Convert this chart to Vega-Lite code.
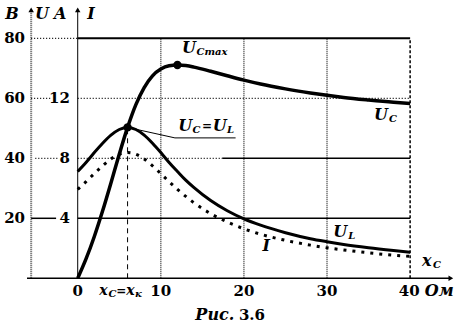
{
  "$schema": "https://vega.github.io/schema/vega-lite/v6.json",
  "width": 455,
  "height": 328,
  "autosize": "none",
  "padding": 0,
  "background": "white",
  "config": {"view": {"stroke": null}, "font": "DejaVu Serif"},
  "resolve": {"scale": {"y": "independent"}},
  "layer": [
    {
      "data": {"values": [{"x": 10, "y": 0, "y2": 80}, {"x": 20, "y": 0, "y2": 80}, {"x": 30, "y": 0, "y2": 80}]},
      "mark": {"type": "rule", "stroke": "#444", "strokeWidth": 1.5, "strokeDash": [1, 1]},
      "encoding": {
        "x": {"field": "x", "type": "quantitative", "scale": {"domain": [-9.35, 45.4], "nice": false, "zero": false}, "axis": null},
        "y": {"field": "y", "type": "quantitative", "scale": {"domain": [-16.57, 92.77], "nice": false, "zero": false}, "axis": null},
        "y2": {"field": "y2"}
      }
    },
    {
      "data": {"values": [{"x": -5.6, "y": 0, "y2": 89}]},
      "mark": {"type": "rule", "stroke": "#555", "strokeWidth": 2, "strokeDash": [1, 1]},
      "encoding": {
        "x": {"field": "x", "type": "quantitative", "scale": {"domain": [-9.35, 45.4], "nice": false, "zero": false}, "axis": null},
        "y": {"field": "y", "type": "quantitative", "scale": {"domain": [-16.57, 92.77], "nice": false, "zero": false}, "axis": null},
        "y2": {"field": "y2"}
      }
    },
    {
      "data": {"values": [{"x": 40, "y": 0, "y2": 80}]},
      "mark": {"type": "rule", "stroke": "black", "strokeWidth": 1.5, "strokeDash": [3, 2]},
      "encoding": {
        "x": {"field": "x", "type": "quantitative", "scale": {"domain": [-9.35, 45.4], "nice": false, "zero": false}, "axis": null},
        "y": {"field": "y", "type": "quantitative", "scale": {"domain": [-16.57, 92.77], "nice": false, "zero": false}, "axis": null},
        "y2": {"field": "y2"}
      }
    },
    {
      "data": {"values": [{"x": 6, "y": 0, "y2": 50.3}]},
      "mark": {"type": "rule", "stroke": "black", "strokeWidth": 1, "strokeDash": [5, 4]},
      "encoding": {
        "x": {"field": "x", "type": "quantitative", "scale": {"domain": [-9.35, 45.4], "nice": false, "zero": false}, "axis": null},
        "y": {"field": "y", "type": "quantitative", "scale": {"domain": [-16.57, 92.77], "nice": false, "zero": false}, "axis": null},
        "y2": {"field": "y2"}
      }
    },
    {
      "data": {"values": [{"x": 0, "y": 0, "y2": 89}]},
      "mark": {"type": "rule", "stroke": "black", "strokeWidth": 1},
      "encoding": {
        "x": {"field": "x", "type": "quantitative", "scale": {"domain": [-9.35, 45.4], "nice": false, "zero": false}, "axis": null},
        "y": {"field": "y", "type": "quantitative", "scale": {"domain": [-16.57, 92.77], "nice": false, "zero": false}, "axis": null},
        "y2": {"field": "y2"}
      }
    },
    {
      "data": {"values": [{"x": -5.6, "x2": -2.6, "y": 20}, {"x": 0, "x2": 40, "y": 20}, {"x": 17.4, "x2": 40, "y": 40}, {"x": -6.1, "x2": 44.8, "y": 0}]},
      "mark": {"type": "rule", "stroke": "black", "strokeWidth": 1.5},
      "encoding": {
        "x": {"field": "x", "type": "quantitative", "scale": {"domain": [-9.35, 45.4], "nice": false, "zero": false}, "axis": null},
        "x2": {"field": "x2"},
        "y": {"field": "y", "type": "quantitative", "scale": {"domain": [-16.57, 92.77], "nice": false, "zero": false}, "axis": null}
      }
    },
    {
      "data": {"values": [{"x": 0, "x2": 40, "y": 80}]},
      "mark": {"type": "rule", "stroke": "black", "strokeWidth": 2},
      "encoding": {
        "x": {"field": "x", "type": "quantitative", "scale": {"domain": [-9.35, 45.4], "nice": false, "zero": false}, "axis": null},
        "x2": {"field": "x2"},
        "y": {"field": "y", "type": "quantitative", "scale": {"domain": [-16.57, 92.77], "nice": false, "zero": false}, "axis": null}
      }
    },
    {
      "data": {"values": [{"x": -5.6, "x2": -3.2, "y": 60}, {"x": 0, "x2": 40, "y": 60}, {"x": -5.1, "x2": -2.4, "y": 40}, {"x": 0, "x2": 17.4, "y": 40}, {"x": -5.6, "x2": 0, "y": 80}]},
      "mark": {"type": "rule", "stroke": "black", "strokeWidth": 1.3, "strokeDash": [1, 2]},
      "encoding": {
        "x": {"field": "x", "type": "quantitative", "scale": {"domain": [-9.35, 45.4], "nice": false, "zero": false}, "axis": null},
        "x2": {"field": "x2"},
        "y": {"field": "y", "type": "quantitative", "scale": {"domain": [-16.57, 92.77], "nice": false, "zero": false}, "axis": null}
      }
    },
    {
      "data": {"values": [{"x": -5.6, "y": 89.5}, {"x": 0, "y": 89.5}]},
      "mark": {"type": "point", "shape": "triangle-up", "filled": true, "color": "black", "size": 30, "opacity": 1},
      "encoding": {
        "x": {"field": "x", "type": "quantitative", "scale": {"domain": [-9.35, 45.4], "nice": false, "zero": false}, "axis": null},
        "y": {"field": "y", "type": "quantitative", "scale": {"domain": [-16.57, 92.77], "nice": false, "zero": false}, "axis": null}
      }
    },
    {
      "data": {"values": [{"x": 44.9, "y": 0}]},
      "mark": {"type": "point", "shape": "triangle-right", "filled": true, "color": "black", "size": 30, "opacity": 1},
      "encoding": {
        "x": {"field": "x", "type": "quantitative", "scale": {"domain": [-9.35, 45.4], "nice": false, "zero": false}, "axis": null},
        "y": {"field": "y", "type": "quantitative", "scale": {"domain": [-16.57, 92.77], "nice": false, "zero": false}, "axis": null}
      }
    },
    {
      "data": {"values": [
        {"x": 0, "U": 0}, {"x": 1, "U": 6.44}, {"x": 2, "U": 13.95}, {"x": 3, "U": 22.5}, {"x": 4, "U": 31.8}, {"x": 5, "U": 41.35}, {"x": 6, "U": 50.3}, {"x": 7, "U": 57.9}, {"x": 8, "U": 63.6}, {"x": 9, "U": 67.5}, {"x": 10, "U": 69.75}, {"x": 11, "U": 70.85}, {"x": 12, "U": 71.1}, {"x": 13, "U": 70.9}, {"x": 14, "U": 70.4}, {"x": 16, "U": 69.0}, {"x": 18, "U": 67.5}, {"x": 20, "U": 66.05}, {"x": 22, "U": 64.75}, {"x": 25, "U": 63.15}, {"x": 28, "U": 61.8}, {"x": 30, "U": 61.0}, {"x": 32, "U": 60.3}, {"x": 35, "U": 59.45}, {"x": 38, "U": 58.7}, {"x": 40, "U": 58.3}
      ]},
      "mark": {"type": "line", "color": "black", "strokeWidth": 3.5, "interpolate": "monotone"},
      "encoding": {
        "x": {"field": "x", "type": "quantitative", "scale": {"domain": [-9.35, 45.4], "nice": false, "zero": false}, "axis": null},
        "y": {"field": "U", "type": "quantitative", "scale": {"domain": [-16.57, 92.77], "nice": false, "zero": false}, "axis": null}
      }
    },
    {
      "data": {"values": [
        {"x": 0, "U": 35.6}, {"x": 1, "U": 38.6}, {"x": 2, "U": 41.9}, {"x": 3, "U": 45.0}, {"x": 4, "U": 47.7}, {"x": 5, "U": 49.6}, {"x": 6, "U": 50.3}, {"x": 7, "U": 49.6}, {"x": 8, "U": 47.7}, {"x": 9, "U": 45.0}, {"x": 10, "U": 41.9}, {"x": 11, "U": 38.6}, {"x": 12, "U": 35.6}, {"x": 13, "U": 32.7}, {"x": 14, "U": 30.2}, {"x": 16, "U": 25.9}, {"x": 18, "U": 22.5}, {"x": 20, "U": 19.8}, {"x": 22, "U": 17.7}, {"x": 25, "U": 15.2}, {"x": 28, "U": 13.2}, {"x": 30, "U": 12.2}, {"x": 32, "U": 11.3}, {"x": 35, "U": 10.2}, {"x": 38, "U": 9.27}, {"x": 40, "U": 8.7}
      ]},
      "mark": {"type": "line", "color": "black", "strokeWidth": 3, "interpolate": "monotone"},
      "encoding": {
        "x": {"field": "x", "type": "quantitative", "scale": {"domain": [-9.35, 45.4], "nice": false, "zero": false}, "axis": null},
        "y": {"field": "U", "type": "quantitative", "scale": {"domain": [-16.57, 92.77], "nice": false, "zero": false}, "axis": null}
      }
    },
    {
      "data": {"values": [
        {"x": 0, "I": 5.93}, {"x": 1, "I": 6.44}, {"x": 2, "I": 6.98}, {"x": 3, "I": 7.5}, {"x": 4, "I": 7.95}, {"x": 5, "I": 8.27}, {"x": 6, "I": 8.38}, {"x": 7, "I": 8.27}, {"x": 8, "I": 7.95}, {"x": 9, "I": 7.5}, {"x": 10, "I": 6.98}, {"x": 11, "I": 6.44}, {"x": 12, "I": 5.93}, {"x": 13, "I": 5.46}, {"x": 14, "I": 5.03}, {"x": 16, "I": 4.31}, {"x": 18, "I": 3.75}, {"x": 20, "I": 3.3}, {"x": 22, "I": 2.94}, {"x": 25, "I": 2.53}, {"x": 28, "I": 2.21}, {"x": 30, "I": 2.03}, {"x": 32, "I": 1.89}, {"x": 35, "I": 1.7}, {"x": 38, "I": 1.54}, {"x": 40, "I": 1.46}
      ]},
      "mark": {"type": "line", "color": "black", "strokeWidth": 3, "strokeDash": [3, 6], "interpolate": "monotone"},
      "encoding": {
        "x": {"field": "x", "type": "quantitative", "scale": {"domain": [-9.35, 45.4], "nice": false, "zero": false}, "axis": null},
        "y": {"field": "I", "type": "quantitative", "scale": {"domain": [-3.314, 18.554], "nice": false, "zero": false}, "axis": null}
      }
    },
    {
      "data": {"values": [{"x": 6, "U": 50.3}, {"x": 11.7, "U": 46.8}, {"x": 19.0, "U": 46.8}]},
      "mark": {"type": "line", "color": "black", "strokeWidth": 1},
      "encoding": {
        "x": {"field": "x", "type": "quantitative", "scale": {"domain": [-9.35, 45.4], "nice": false, "zero": false}, "axis": null},
        "y": {"field": "U", "type": "quantitative", "scale": {"domain": [-16.57, 92.77], "nice": false, "zero": false}, "axis": null}
      }
    },
    {
      "data": {"values": [{"x": 12, "U": 71.1}, {"x": 6, "U": 50.3}]},
      "mark": {"type": "point", "shape": "circle", "filled": true, "color": "black", "size": 70, "opacity": 1},
      "encoding": {
        "x": {"field": "x", "type": "quantitative", "scale": {"domain": [-9.35, 45.4], "nice": false, "zero": false}, "axis": null},
        "y": {"field": "U", "type": "quantitative", "scale": {"domain": [-16.57, 92.77], "nice": false, "zero": false}, "axis": null}
      }
    },
    {
      "data": {"values": [{"x": -6.34, "y": 80, "t": "80"}, {"x": -6.34, "y": 60, "t": "60"}, {"x": -6.34, "y": 40, "t": "40"}, {"x": -6.34, "y": 20, "t": "20"}, {"x": -0.93, "y": 60, "t": "12"}, {"x": -0.93, "y": 40, "t": "8"}, {"x": -0.93, "y": 20, "t": "4"}]},
      "mark": {"type": "text", "font": "DejaVu Serif", "fontSize": 15, "fontWeight": "bold", "align": "right", "baseline": "middle", "color": "black"},
      "encoding": {
        "x": {"field": "x", "type": "quantitative", "scale": {"domain": [-9.35, 45.4], "nice": false, "zero": false}, "axis": null},
        "y": {"field": "y", "type": "quantitative", "scale": {"domain": [-16.57, 92.77], "nice": false, "zero": false}, "axis": null},
        "text": {"field": "t"}
      }
    },
    {
      "data": {"values": [{"x": 0, "y": -4.2, "t": "0"}, {"x": 10.0, "y": -4.2, "t": "10"}, {"x": 20, "y": -4.2, "t": "20"}, {"x": 30, "y": -4.2, "t": "30"}, {"x": 39.9, "y": -4.2, "t": "40"}]},
      "mark": {"type": "text", "font": "DejaVu Serif", "fontSize": 15, "fontWeight": "bold", "align": "center", "baseline": "middle", "color": "black"},
      "encoding": {
        "x": {"field": "x", "type": "quantitative", "scale": {"domain": [-9.35, 45.4], "nice": false, "zero": false}, "axis": null},
        "y": {"field": "y", "type": "quantitative", "scale": {"domain": [-16.57, 92.77], "nice": false, "zero": false}, "axis": null},
        "text": {"field": "t"}
      }
    },
    {
      "data": {"values": [
        {"x": -7.9, "y": 88.1, "t": "B"}, {"x": -4.3, "y": 88.1, "t": "U"}, {"x": -2.1, "y": 88.1, "t": "A"}, {"x": 1.6, "y": 88.1, "t": "I"},
        {"x": 43.5, "y": -4.2, "t": "Ом"}, {"x": 42.0, "y": 5.6, "t": "x"},
        {"x": 13.4, "y": 76.8, "t": "U"},
        {"x": 12.95, "y": 50.8, "t": "U"}, {"x": 17.1, "y": 50.8, "t": "U"},
        {"x": 36.5, "y": 54.4, "t": "U"}, {"x": 31.6, "y": 15.4, "t": "U"}, {"x": 22.7, "y": 10.8, "t": "I"}
      ]},
      "mark": {"type": "text", "font": "DejaVu Serif", "fontSize": 16, "fontWeight": "bold", "fontStyle": "italic", "align": "center", "baseline": "middle", "color": "black"},
      "encoding": {
        "x": {"field": "x", "type": "quantitative", "scale": {"domain": [-9.35, 45.4], "nice": false, "zero": false}, "axis": null},
        "y": {"field": "y", "type": "quantitative", "scale": {"domain": [-16.57, 92.77], "nice": false, "zero": false}, "axis": null},
        "text": {"field": "t"}
      }
    },
    {
      "data": {"values": [{"x": 3.1, "y": -4.2, "t": "x"}, {"x": 6.35, "y": -4.2, "t": "x"}]},
      "mark": {"type": "text", "font": "DejaVu Serif", "fontSize": 14, "fontWeight": "bold", "fontStyle": "italic", "align": "center", "baseline": "middle", "color": "black"},
      "encoding": {
        "x": {"field": "x", "type": "quantitative", "scale": {"domain": [-9.35, 45.4], "nice": false, "zero": false}, "axis": null},
        "y": {"field": "y", "type": "quantitative", "scale": {"domain": [-16.57, 92.77], "nice": false, "zero": false}, "axis": null},
        "text": {"field": "t"}
      }
    },
    {
      "data": {"values": [{"x": 5.25, "y": -4.2, "t": "="}, {"x": 15.55, "y": 50.8, "t": "="}]},
      "mark": {"type": "text", "font": "DejaVu Serif", "fontSize": 12, "fontWeight": "bold", "align": "center", "baseline": "middle", "color": "black"},
      "encoding": {
        "x": {"field": "x", "type": "quantitative", "scale": {"domain": [-9.35, 45.4], "nice": false, "zero": false}, "axis": null},
        "y": {"field": "y", "type": "quantitative", "scale": {"domain": [-16.57, 92.77], "nice": false, "zero": false}, "axis": null},
        "text": {"field": "t"}
      }
    },
    {
      "data": {"values": [{"x": 18.85, "y": -12.2, "t": "Рис."}]},
      "mark": {"type": "text", "font": "DejaVu Serif", "fontSize": 16, "fontWeight": "bold", "fontStyle": "italic", "align": "right", "baseline": "middle", "color": "black"},
      "encoding": {
        "x": {"field": "x", "type": "quantitative", "scale": {"domain": [-9.35, 45.4], "nice": false, "zero": false}, "axis": null},
        "y": {"field": "y", "type": "quantitative", "scale": {"domain": [-16.57, 92.77], "nice": false, "zero": false}, "axis": null},
        "text": {"field": "t"}
      }
    },
    {
      "data": {"values": [{"x": 19.4, "y": -12.2, "t": "3.6"}]},
      "mark": {"type": "text", "font": "DejaVu Serif", "fontSize": 15, "fontWeight": "bold", "align": "left", "baseline": "middle", "color": "black"},
      "encoding": {
        "x": {"field": "x", "type": "quantitative", "scale": {"domain": [-9.35, 45.4], "nice": false, "zero": false}, "axis": null},
        "y": {"field": "y", "type": "quantitative", "scale": {"domain": [-16.57, 92.77], "nice": false, "zero": false}, "axis": null},
        "text": {"field": "t"}
      }
    },
    {
      "data": {"values": [
        {"x": 42.75, "y": 4.3, "t": "C"},
        {"x": 14.3, "y": 75.4, "t": "Cmax"},
        {"x": 13.8, "y": 49.4, "t": "C"}, {"x": 17.95, "y": 49.4, "t": "L"},
        {"x": 37.45, "y": 53.1, "t": "C"}, {"x": 32.55, "y": 14.1, "t": "L"},
        {"x": 3.7, "y": -5.4, "t": "C"}, {"x": 6.9, "y": -5.4, "t": "к"}
      ]},
      "mark": {"type": "text", "font": "DejaVu Serif", "fontSize": 10, "fontWeight": "bold", "fontStyle": "italic", "align": "left", "baseline": "middle", "color": "black"},
      "encoding": {
        "x": {"field": "x", "type": "quantitative", "scale": {"domain": [-9.35, 45.4], "nice": false, "zero": false}, "axis": null},
        "y": {"field": "y", "type": "quantitative", "scale": {"domain": [-16.57, 92.77], "nice": false, "zero": false}, "axis": null},
        "text": {"field": "t"}
      }
    }
  ]
}
